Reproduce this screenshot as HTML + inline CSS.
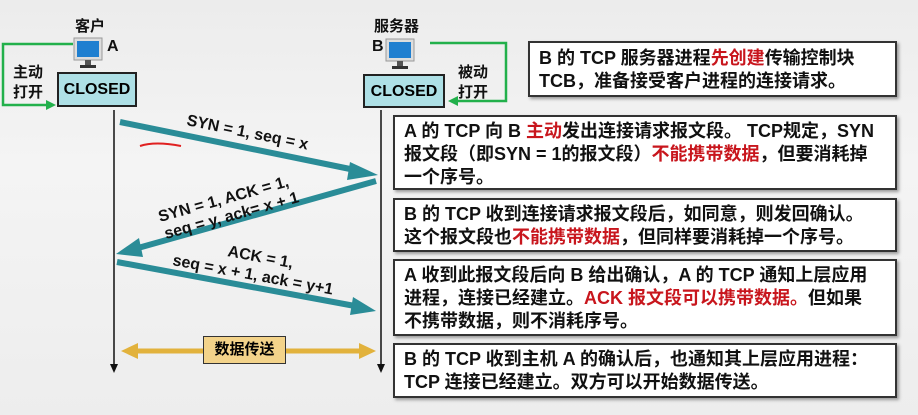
<!DOCTYPE html>
<html><head><meta charset="utf-8"><style>
body{margin:0;width:918px;height:415px;overflow:hidden;background:linear-gradient(#ececec,#f4f4f4 40%,#ededed);font-family:"Liberation Sans","Noto Sans CJK SC",sans-serif;font-weight:bold;position:relative}
.box{position:absolute;background:#fff;border:2px solid #333;box-shadow:2px 2px 3px #999;font-size:18px;line-height:23px;padding:3px 9px;box-sizing:border-box;color:#111;white-space:nowrap}
.r{color:#c8161d}
.t{position:absolute;font-size:15px;color:#111}
.cl{position:absolute;background:#aee0e6;border:2px solid #222;font-size:16px;text-align:center;box-sizing:border-box;line-height:31px}
</style></head><body>
<svg width="918" height="415" style="position:absolute;left:0;top:0">
<g><rect x="74" y="38" width="28" height="22" fill="#ddd" stroke="#999"/><rect x="77" y="41" width="22" height="16" fill="#1f7fd0"/><rect x="85" y="60" width="6" height="5" fill="#555"/><rect x="80" y="65" width="16" height="3" fill="#333"/></g>
<g><rect x="386" y="39" width="28" height="22" fill="#ddd" stroke="#999"/><rect x="389" y="42" width="22" height="16" fill="#1f7fd0"/><rect x="397" y="61" width="6" height="5" fill="#555"/><rect x="392" y="66" width="16" height="3" fill="#333"/></g>
<polyline points="73,44 3,44 3,105 50,105" fill="none" stroke="#22b04b" stroke-width="2.5"/>
<path d="M56,105 L46,100 L46,110Z" fill="#22b04b"/>
<polyline points="430,43 506,43 506,101 458,101" fill="none" stroke="#22b04b" stroke-width="2.5"/>
<path d="M448,101 L458,96 L458,106Z" fill="#22b04b"/>
<line x1="114" y1="110" x2="114" y2="368" stroke="#111" stroke-width="1.5"/>
<path d="M110,364 L118,364 L114,373Z" fill="#111"/>
<line x1="381" y1="110" x2="381" y2="368" stroke="#111" stroke-width="1.5"/>
<path d="M377,364 L385,364 L381,373Z" fill="#111"/>
<g stroke="#2a8c97" stroke-width="6" fill="#2a8c97">
<line x1="120" y1="122" x2="355" y2="170"/>
<line x1="376" y1="181" x2="138" y2="248"/>
<line x1="117" y1="262" x2="355" y2="306"/>
</g>
<path d="M378,175 L350,162 L347,180Z" fill="#2a8c97"/>
<path d="M116,254 L139,238 L143,257Z" fill="#2a8c97"/>
<path d="M376,311 L353,297 L350,315Z" fill="#2a8c97"/>
<path d="M140,146 Q155,141 181,146" stroke="#e02020" stroke-width="2" fill="none"/>
<line x1="135" y1="351" x2="362" y2="351" stroke="#e2b23c" stroke-width="5"/>
<path d="M121,351 L138,343 L138,359Z" fill="#e2b23c"/>
<path d="M376,351 L359,343 L359,359Z" fill="#e2b23c"/>
<g font-size="16" font-weight="bold" fill="#111" font-family="Liberation Sans">
<text x="186" y="125" transform="rotate(11.5 186 125)">SYN = 1, seq = x</text>
<text x="160" y="222" transform="rotate(-15.5 160 222)">SYN = 1, ACK = 1,</text>
<text x="166" y="239" transform="rotate(-15.5 166 239)">seq = y, ack= x + 1</text>
<text x="227" y="256" transform="rotate(10.5 227 256)">ACK = 1,</text>
<text x="172" y="265" transform="rotate(10.5 172 265)">seq = x + 1, ack = y+1</text>
</g>
</svg>
<div class="t" style="left:75px;top:15px">客户</div>
<div class="t" style="left:107px;top:38px;font-size:16px">A</div>
<div class="t" style="left:374px;top:15px">服务器</div>
<div class="t" style="left:372px;top:38px;font-size:16px">B</div>
<div class="t" style="left:13px;top:63px;line-height:20px">主动<br>打开</div>
<div class="t" style="left:458px;top:63px;line-height:20px">被动<br>打开</div>
<div class="cl" style="left:57px;top:72px;width:80px;height:35px">CLOSED</div>
<div class="cl" style="left:363px;top:74px;width:82px;height:34px">CLOSED</div>
<div style="position:absolute;left:203px;top:336px;width:83px;height:28px;background:#f3d38a;border:1.5px solid #333;box-sizing:border-box;font-size:15px;text-align:center;line-height:25px">数据传送</div>
<div class="box" style="left:528px;top:41px;width:369px;height:56px;padding-top:4px">B 的 TCP 服务器进程<span class="r">先创建</span>传输控制块<br>TCB，准备接受客户进程的连接请求。</div>
<div class="box" style="left:393px;top:115px;width:504px;height:75px;padding-top:3px">A 的 TCP 向 B <span class="r">主动</span>发出连接请求报文段。 TCP规定，SYN<br>报文段（即SYN = 1的报文段）<span class="r">不能携带数据</span>，但要消耗掉<br>一个序号。</div>
<div class="box" style="left:393px;top:198px;width:504px;height:54px;padding-top:3px">B 的 TCP 收到连接请求报文段后，如同意，则发回确认。<br>这个报文段也<span class="r">不能携带数据</span>，但同样要消耗掉一个序号。</div>
<div class="box" style="left:393px;top:259px;width:504px;height:77px;padding-top:3px">A 收到此报文段后向 B 给出确认，A 的 TCP 通知上层应用<br>进程，连接已经建立。<span class="r">ACK 报文段可以携带数据。</span>但如果<br>不携带数据，则不消耗序号。</div>
<div class="box" style="left:393px;top:343px;width:504px;height:55px;padding-top:3px">B 的 TCP 收到主机 A 的确认后，也通知其上层应用进程：<br>TCP 连接已经建立。双方可以开始数据传送。</div>
</body></html>
